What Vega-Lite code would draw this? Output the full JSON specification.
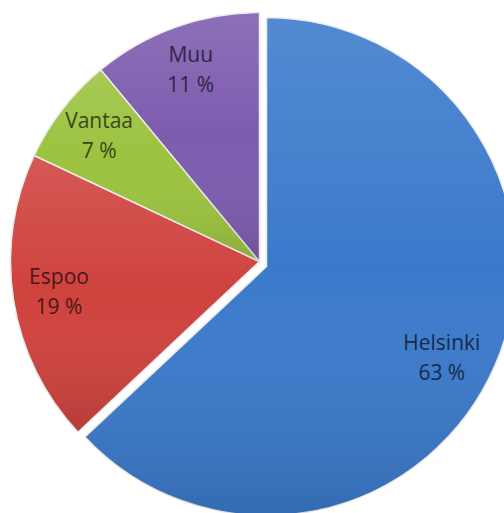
{
  "$schema": "https://vega.github.io/schema/vega-lite/v6.json",
  "width": 504,
  "height": 513,
  "autosize": {"type": "fit", "contains": "padding"},
  "padding": {"left": 22, "top": 11, "right": 0, "bottom": 0},
  "background": "white",
  "view": {"stroke": null},
  "data": {
    "values": [
      {"city": "Helsinki", "share": 63, "pct": "63 %", "i": 1},
      {"city": "Espoo", "share": 19, "pct": "19 %", "i": 2},
      {"city": "Vantaa", "share": 7, "pct": "7 %", "i": 3},
      {"city": "Muu", "share": 11, "pct": "11 %", "i": 4}
    ]
  },
  "encoding": {
    "theta": {"field": "share", "type": "quantitative", "stack": true},
    "order": {"field": "i", "type": "quantitative"}
  },
  "layer": [
    {
      "mark": {"type": "arc", "radius": 249, "stroke": "#ececec", "strokeWidth": 1.5},
      "encoding": {
        "color": {
          "field": "city", "type": "nominal", "legend": null,
          "scale": {"domain": ["Helsinki", "Espoo", "Vantaa", "Muu"], "range": ["#3b7acb", "#cf423e", "#9cc23f", "#7d5caf"]}
        },
        "opacity": {"condition": {"test": "datum.city === 'Helsinki'", "value": 0}, "value": 1}
      }
    },
    {
      "mark": {"type": "arc", "radius": 249, "strokeWidth": 0,
        "color": {"gradient": "linear", "x1": 0, "y1": 0, "x2": 0, "y2": 1,
          "stops": [{"offset": 0, "color": "rgba(255,255,255,0.12)"}, {"offset": 0.5, "color": "rgba(255,255,255,0)"}, {"offset": 1, "color": "rgba(0,0,0,0.12)"}]}},
      "encoding": {
        "opacity": {"condition": {"test": "datum.city === 'Helsinki'", "value": 0}, "value": 1}
      }
    },
    {
      "mark": {"type": "arc", "radius": 249, "stroke": "#ececec", "strokeWidth": 1.5, "xOffset": 7, "yOffset": 5},
      "encoding": {
        "color": {"field": "city", "type": "nominal", "legend": null},
        "opacity": {"condition": {"test": "datum.city === 'Helsinki'", "value": 1}, "value": 0}
      }
    },
    {
      "mark": {"type": "arc", "radius": 249, "strokeWidth": 0, "xOffset": 7, "yOffset": 5,
        "color": {"gradient": "linear", "x1": 0, "y1": 0, "x2": 0, "y2": 1,
          "stops": [{"offset": 0, "color": "rgba(255,255,255,0.12)"}, {"offset": 0.5, "color": "rgba(255,255,255,0)"}, {"offset": 1, "color": "rgba(0,0,0,0.12)"}]}},
      "encoding": {
        "opacity": {"condition": {"test": "datum.city === 'Helsinki'", "value": 1}, "value": 0}
      }
    },
    {
      "mark": {"type": "text", "radius": 203, "dy": -15, "font": "Open Sans", "fontSize": 21, "color": "black"},
      "encoding": {
        "text": {"field": "city"},
        "opacity": {"condition": {"test": "datum.city === 'Helsinki'", "value": 0}, "value": 0.65}
      }
    },
    {
      "mark": {"type": "text", "radius": 203, "dy": 15, "font": "Open Sans", "fontSize": 21, "color": "black"},
      "encoding": {
        "text": {"field": "pct"},
        "opacity": {"condition": {"test": "datum.city === 'Helsinki'", "value": 0}, "value": 0.65}
      }
    },
    {
      "mark": {"type": "text", "radius": 198, "thetaOffset": 0.075, "xOffset": 7, "yOffset": 5, "dy": -15, "font": "Open Sans", "fontSize": 21, "color": "black"},
      "encoding": {
        "text": {"field": "city"},
        "opacity": {"condition": {"test": "datum.city === 'Helsinki'", "value": 0.65}, "value": 0}
      }
    },
    {
      "mark": {"type": "text", "radius": 198, "thetaOffset": 0.075, "xOffset": 7, "yOffset": 5, "dy": 15, "font": "Open Sans", "fontSize": 21, "color": "black"},
      "encoding": {
        "text": {"field": "pct"},
        "opacity": {"condition": {"test": "datum.city === 'Helsinki'", "value": 0.65}, "value": 0}
      }
    }
  ]
}
